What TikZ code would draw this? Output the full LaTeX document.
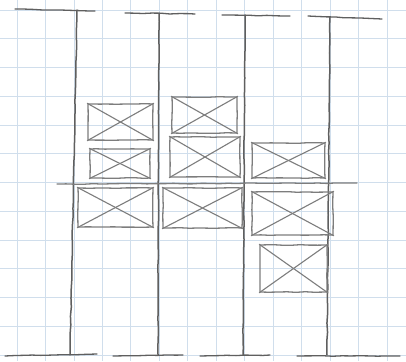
\documentclass[tikz,border=0pt]{standalone}
\usetikzlibrary{decorations.pathmorphing}
\definecolor{gridblue}{RGB}{208,222,236}
\definecolor{pencil}{RGB}{95,95,95}
\definecolor{pencillight}{RGB}{125,125,125}
\tikzset{
  sketch/.style={decorate,decoration={random steps,segment length=9pt,amplitude=0.35pt}},
  post/.style={pencil,line width=1.5pt,line cap=round,sketch},
  capline/.style={pencil,line width=1.3pt,line cap=round,sketch},
  xbox/.style={draw=pencillight,line width=1.3pt,rectangle,inner sep=0pt,sketch},
  cross/.style={pencillight,line width=1.1pt,line cap=round}
}
\newcommand{\crossbox}[5]{%
  \node[xbox,minimum width=#4pt,minimum height=#5pt] (#1) at (#2,#3) {};
  \draw[cross] (#1.north west) -- (#1.south east);
  \draw[cross] (#1.south west) -- (#1.north east);
}
\begin{document}
\begin{tikzpicture}[x=1pt,y=-1pt]
\pgfmathsetseed{7}
\useasboundingbox (0,0) rectangle (406,361);
\fill[white] (0,0) rectangle (406,361);
% grid paper
\foreach \i in {0,...,14} {\draw[gridblue,line width=0.8pt] ({17+28.46*\i},0) -- ({17+28.46*\i},361);}
\foreach \j in {0,...,12} {\draw[gridblue,line width=0.8pt] (0,{10+28.75*\j}) -- (406,{10+28.75*\j});}
% posts
\coordinate (p1t) at (77,10);  \coordinate (p1b) at (70,355);
\coordinate (p2t) at (159,13); \coordinate (p2b) at (158,355);
\coordinate (p3t) at (245,15); \coordinate (p3b) at (243,355);
\coordinate (p4t) at (330,17); \coordinate (p4b) at (327,355);
\draw[post] (p1t) -- (p1b);
\draw[post] (p2t) -- (p2b);
\draw[post] (p3t) -- (p3b);
\draw[post] (p4t) -- (p4b);
% caps
\coordinate (c1a) at (15,9);   \coordinate (c1b) at (95,11);
\coordinate (c2a) at (125,13); \coordinate (c2b) at (195,14);
\coordinate (c3a) at (222,15); \coordinate (c3b) at (290,16);
\coordinate (c4a) at (308,16); \coordinate (c4b) at (382,19);
\draw[capline] (c1a) -- (c1b);
\draw[capline] (c2a) -- (c2b);
\draw[capline] (c3a) -- (c3b);
\draw[capline] (c4a) -- (c4b);
\coordinate (d1a) at (5,356);   \coordinate (d1b) at (97,354);
\coordinate (d2a) at (113,356); \coordinate (d2b) at (183,355);
\coordinate (d3a) at (200,356); \coordinate (d3b) at (270,355);
\coordinate (d4a) at (297,356); \coordinate (d4b) at (400,356);
\draw[capline] (d1a) -- (d1b);
\draw[capline] (d2a) -- (d2b);
\draw[capline] (d3a) -- (d3b);
\draw[capline] (d4a) -- (d4b);
% beam
\coordinate (b1) at (57,184); \coordinate (b2) at (357,183);
\draw[capline,pencillight] (b1) -- (b2);
% boxes
\crossbox{A}{120.5}{122}{65}{36}
\crossbox{B}{120}{163.5}{60}{29}
\crossbox{C}{115.5}{207.5}{75}{39}
\crossbox{D}{204.5}{115}{65}{36}
\crossbox{E}{205}{157}{70}{40}
\crossbox{F}{202.5}{208}{79}{40}
\crossbox{G}{288.5}{160.5}{73}{35}
\crossbox{H}{292.5}{213.5}{81}{43}
\crossbox{I}{293.5}{268.5}{67}{47}
\end{tikzpicture}
\end{document}
